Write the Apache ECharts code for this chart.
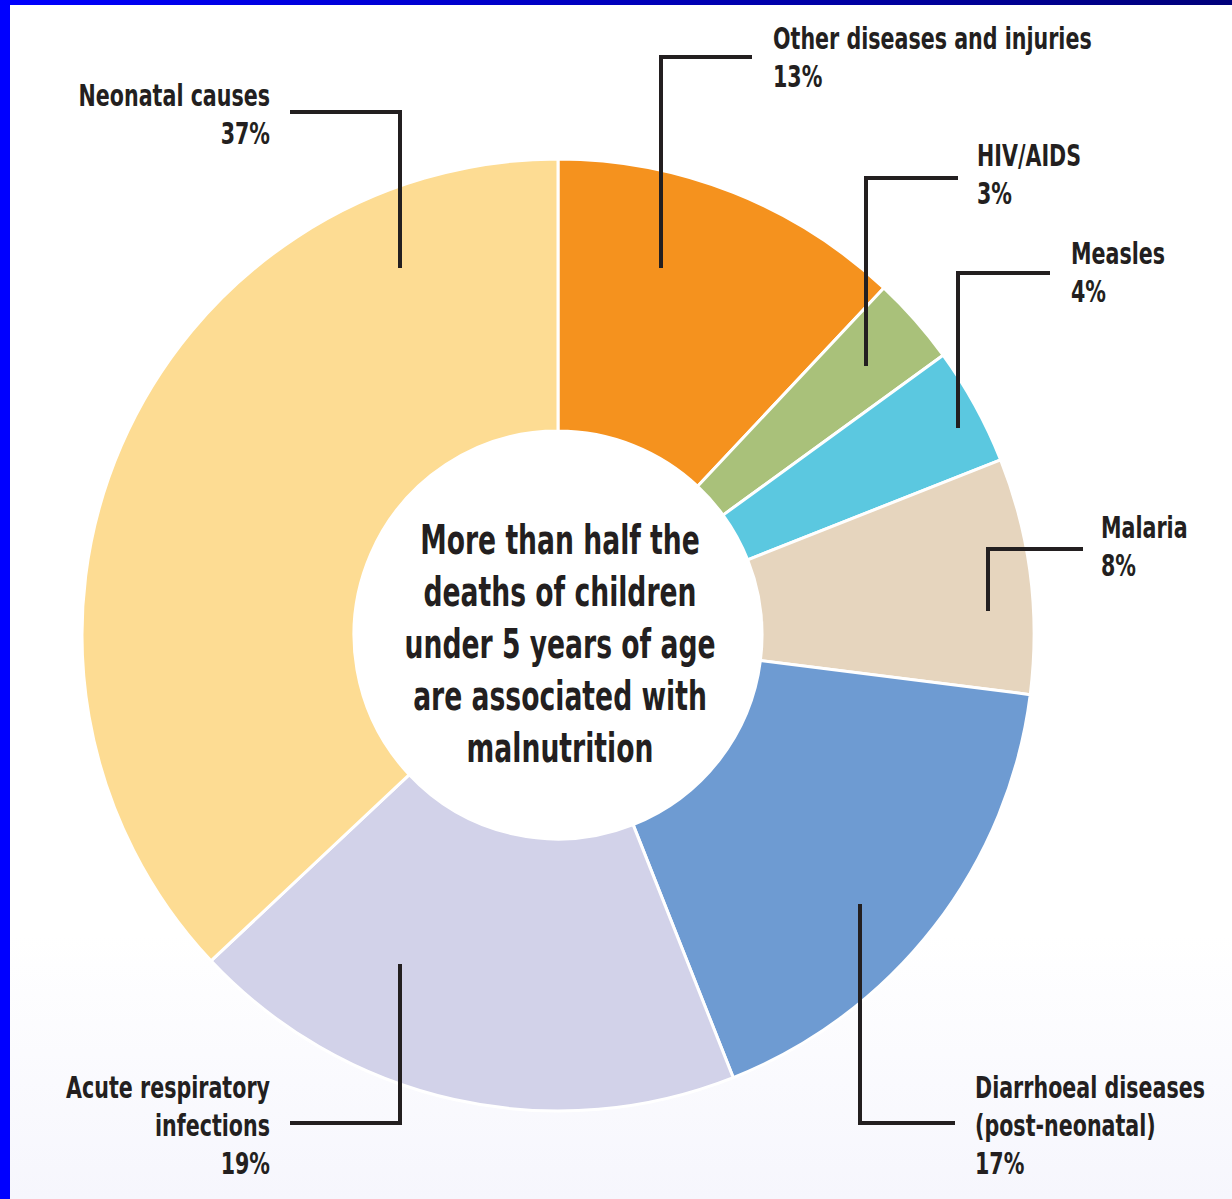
<!DOCTYPE html>
<html><head><meta charset="utf-8">
<script src="https://cdn.jsdelivr.net/npm/echarts@6/dist/echarts.min.js"></script>
<style>
html,body{margin:0;padding:0;width:1232px;height:1199px;overflow:hidden;background:#fff;}
#c{position:absolute;left:0;top:0;width:1232px;height:1199px;}
#bl{position:absolute;left:0;top:0;width:10px;height:1199px;background:#0000ff;}
#bt{position:absolute;left:0;top:0;width:1232px;height:5px;background:linear-gradient(90deg,#0000ff,#00007a);}
</style></head><body>
<div id="c"></div><div id="bl"></div><div id="bt"></div>
<script>
// Data (clockwise from 12 o'clock)
const categories = ['Other diseases and injuries', 'HIV/AIDS', 'Measles', 'Malaria', 'Diarrhoeal diseases\n(post-neonatal)', 'Acute respiratory\ninfections', 'Neonatal causes'];
const values = [12, 3, 4, 8, 17, 19, 37];          // slice sizes as drawn
const pctLabels = ['13%', '3%', '4%', '8%', '17%', '19%', '37%']; // printed labels
const colors = ['#F5921E', '#A9C17A', '#5BC8E0', '#E6D5BE', '#6E9BD2', '#D2D2E9', '#FDDC93'];
const centerText = 'More than half the\ndeaths of children\nunder 5 years of age\nare associated with\nmalnutrition';

// Annotation placement only (label anchor + elbow leader line)
const labelPlace = [
  {x: 773, y: 19, align: 'left', line: [[661, 268], [661, 57], [752, 57]]},
  {x: 977, y: 136, align: 'left', line: [[866, 366], [866, 178], [958, 178]]},
  {x: 1071, y: 234, align: 'left', line: [[958, 428], [958, 273], [1050, 273]]},
  {x: 1101, y: 508, align: 'left', line: [[988, 611], [988, 549], [1083, 549]]},
  {x: 975, y: 1068, align: 'left', line: [[860, 904], [860, 1123], [955, 1123]]},
  {x: 270, y: 1068, align: 'right', line: [[400, 964], [400, 1123], [290, 1123]]},
  {x: 270, y: 76, align: 'right', line: [[400, 268], [400, 112], [290, 112]]}
];

const FONT = "'Liberation Sans Narrow','DejaVu Sans Condensed',sans-serif";
const INK = '#231F20';
const graphics = [];
categories.forEach((c, i) => {
  const s = labelPlace[i];
  graphics.push({
    type: 'polyline', z: 100,
    shape: {points: s.line},
    style: {stroke: INK, lineWidth: 4, fill: null, lineJoin: 'miter'}
  });
  graphics.push({
    type: 'text', z: 100,
    x: s.x, y: s.y, scaleX: 0.74,
    style: {
      text: c + '\n' + pctLabels[i],
      align: s.align, verticalAlign: 'top',
      font: 'bold 31px ' + FONT, lineHeight: 38, fill: INK
    }
  });
});
graphics.push({
  type: 'text', z: 100,
  x: 560, y: 644, scaleX: 0.74,
  style: {
    text: centerText,
    align: 'center', verticalAlign: 'middle',
    font: 'bold 40px ' + FONT, lineHeight: 52, fill: INK
  }
});

const chart = echarts.init(document.getElementById('c'), null, {renderer: 'svg'});
chart.setOption({
  backgroundColor: {type: 'linear', x: 0, y: 0, x2: 0, y2: 1, colorStops: [
    {offset: 0, color: '#ffffff'}, {offset: 0.78, color: '#ffffff'}, {offset: 1, color: '#f6f6fd'}]},
  animation: false,
  series: [{
    type: 'pie',
    center: [558, 635],
    radius: [204, 476],
    startAngle: 90,
    clockwise: true,
    itemStyle: {borderColor: '#ffffff', borderWidth: 3},
    label: {show: false},
    labelLine: {show: false},
    emphasis: {disabled: true},
    data: categories.map((c, i) => ({name: c, value: values[i], itemStyle: {color: colors[i]}}))
  }],
  graphic: graphics
});
</script></body></html>
